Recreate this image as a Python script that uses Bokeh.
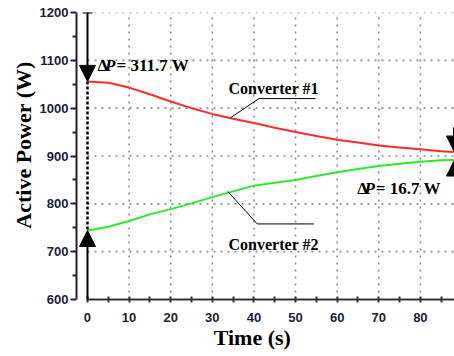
from bokeh.plotting import figure
from bokeh.models import (FixedTicker, Arrow, NormalHead, TeeHead, Label, Range1d)
from bokeh.embed import file_html
from bokeh.resources import INLINE

# ---- data ----
T = [0, 5, 10, 15, 20, 25, 30, 35, 40, 45, 50, 55, 60, 65, 70, 75, 80, 85, 88]
RED = [1056.0, 1053, 1043, 1029, 1014, 1000, 988, 978, 969, 959, 950, 942,
       934, 928, 922, 918, 914, 910, 908.3]
GREEN = [744.3, 752, 764, 778, 789, 801, 814, 826, 838, 844, 850, 858,
         866, 873, 879, 884, 888, 891, 891.6]

X_TICKS = [0, 10, 20, 30, 40, 50, 60, 70, 80]
X_MINOR = [5, 15, 25, 35, 45, 55, 65, 75, 85]
Y_TICKS = [600, 700, 800, 900, 1000, 1100, 1200]
Y_MINOR = [650, 750, 850, 950, 1050, 1150]
X_GRID = [10, 20, 30, 40, 50, 60, 70, 80]
Y_GRID = [700, 800, 900, 1000, 1100, 1200]
X_START, X_END = -2.64, 88.2
Y_START, Y_END = 600, 1200

LEAD1_T = [34.4, 41.2, 54.8]
LEAD1_P = [980, 1020, 1020]
LEAD2_T = [33.7, 40.8, 54.4]
LEAD2_P = [826, 758, 758]

X_TITLE = "Time (s)"
Y_TITLE = "Active Power (W)"

SERIF = "Liberation Serif"
SANS = "Liberation Sans"
RED_C = "#ff2b2b"
GREEN_C = "#2ee82e"

p = figure(width=454, height=356,
           x_range=Range1d(X_START, X_END), y_range=Range1d(Y_START, Y_END),
           output_backend="svg", toolbar_location=None,
           min_border_left=76, min_border_right=0,
           min_border_top=12, min_border_bottom=57)
p.outline_line_color = None
p.xgrid.visible = False
p.ygrid.visible = False
p.background_fill_color = "white"
p.border_fill_color = "white"

# grid (dotted)
p.segment(x0=X_GRID, y0=[Y_START] * len(X_GRID), x1=X_GRID, y1=[Y_END] * len(X_GRID),
          line_color="#8c8c8c", line_width=1.6, line_dash="2 5")
p.segment(x0=[0] * len(Y_GRID), y0=Y_GRID, x1=[X_END] * len(Y_GRID), y1=Y_GRID,
          line_color="#8c8c8c", line_width=1.6, line_dash="2 5")

# axes
xa = p.xaxis[0]
xa.ticker = FixedTicker(ticks=X_TICKS, minor_ticks=X_MINOR)
xa.bounds = (0, X_END)
xa.axis_line_width = 2
xa.axis_line_color = "#333333"
xa.major_tick_in = 3
xa.major_tick_out = 3
xa.minor_tick_in = 3
xa.minor_tick_out = 3
xa.major_tick_line_width = 2
xa.minor_tick_line_width = 2
xa.major_tick_line_color = "#333333"
xa.minor_tick_line_color = "#333333"
xa.major_label_standoff = 10
xa.major_label_text_font = SANS
xa.major_label_text_font_style = "bold"
xa.major_label_text_font_size = "13px"
xa.major_label_text_color = "#1c1c3c"
xa.axis_label = X_TITLE + "\u00a0" * 4 + "\u2009"
xa.axis_label_text_font = SERIF
xa.axis_label_text_font_style = "bold"
xa.axis_label_text_font_size = "22px"
xa.axis_label_text_color = "black"
xa.axis_label_standoff = 0

ya = p.yaxis[0]
ya.ticker = FixedTicker(ticks=Y_TICKS, minor_ticks=Y_MINOR)
ya.axis_line_width = 2
ya.axis_line_color = "#222222"
ya.major_tick_in = 0
ya.major_tick_out = 6
ya.minor_tick_in = 0
ya.minor_tick_out = 4
ya.major_tick_line_width = 2
ya.minor_tick_line_width = 2
ya.major_tick_line_color = "#222222"
ya.minor_tick_line_color = "#222222"
ya.major_label_standoff = 2
ya.major_label_text_font = SANS
ya.major_label_text_font_style = "bold"
ya.major_label_text_font_size = "13px"
ya.major_label_text_color = "#1c1c3c"
ya.axis_label = "\u00a0" * 4 + Y_TITLE
ya.axis_label_text_font = SERIF
ya.axis_label_text_font_style = "bold"
ya.axis_label_text_font_size = "22px"
ya.axis_label_text_color = "black"
ya.axis_label_standoff = 1

# curves
p.line(T, RED, line_color=RED_C, line_width=2)
p.line(T, GREEN, line_color=GREEN_C, line_width=2)

# leader lines
p.line(LEAD1_T, LEAD1_P, line_color="black", line_width=1)
p.line(LEAD2_T, LEAD2_P, line_color="black", line_width=1)

# dashed delta line at t=0
p.line([0, 0], [RED[0], GREEN[0]], line_color="black", line_width=2.5, line_dash="3 2")

# arrows
p.add_layout(Arrow(x_start=0, y_start=Y_END, x_end=0, y_end=RED[0],
                   line_width=2, line_color="black",
                   start=TeeHead(size=10, line_width=2),
                   end=NormalHead(size=16, fill_color="black", line_color="black")))
p.add_layout(Arrow(x_start=0, y_start=Y_START, x_end=0, y_end=GREEN[0],
                   line_width=2, line_color="black",
                   end=NormalHead(size=16, fill_color="black", line_color="black")))
p.add_layout(Arrow(x_start=X_END, y_start=RED[-1] + 52, x_end=X_END, y_end=RED[-1],
                   line_width=3, line_color="black",
                   end=NormalHead(size=16, fill_color="black", line_color="black")))
p.add_layout(Arrow(x_start=X_END, y_start=GREEN[-1] - 33, x_end=X_END, y_end=GREEN[-1],
                   line_width=3, line_color="black",
                   end=NormalHead(size=16, fill_color="black", line_color="black")))


def txt(x, y, s, size="17px", style="bold", align="left"):
    p.add_layout(Label(x=x, y=y, text=s, text_font=SERIF, text_font_style=style,
                       text_font_size=size, text_color="black",
                       text_baseline="alphabetic", text_align=align))


txt(2.4, 1089.5, "Δ")
txt(4.2, 1089.5, "P", style="bold italic")
txt(6.97, 1089.5, "= 311.7 W")
txt(64.83, 832.2, "Δ")
txt(66.6, 832.2, "P", style="bold italic")
txt(69.3, 832.2, "= 16.7 W")
txt(33.9, 1041.4, "Converter #1", size="16px")
txt(33.9, 714.4, "Converter #2", size="16px")

open("out.html", "w").write(file_html(p, INLINE))
